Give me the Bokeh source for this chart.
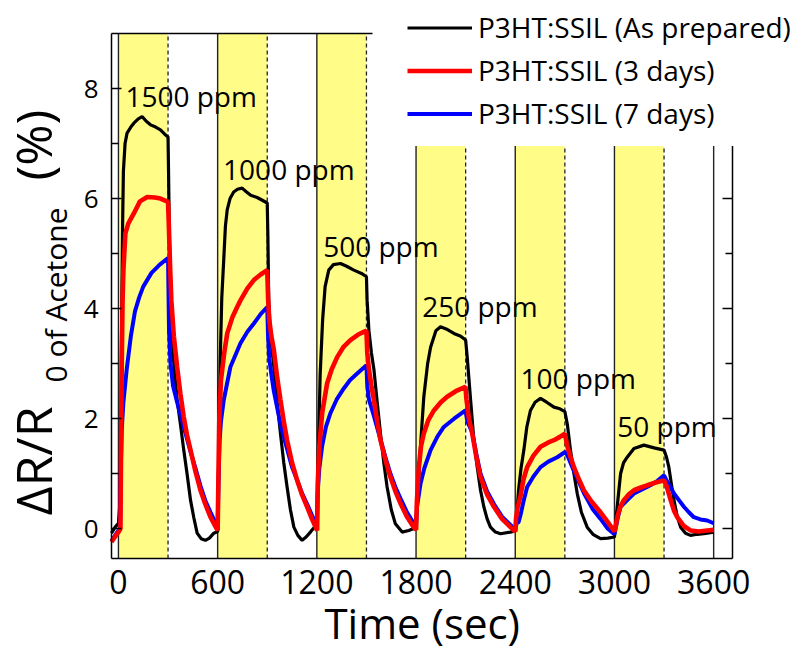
import math
from bokeh.plotting import figure
from bokeh.models import (ColumnDataSource, FixedTicker, LinearAxis, BoxAnnotation,
                          Label, Legend, LegendItem, Range1d)
from bokeh.core.properties import value
from bokeh.embed import file_html
from bokeh.resources import INLINE

FONT = "Open Sans"

# ---------------- data ----------------
black_t = [-42, -20, 0, 10, 15, 20, 25, 30, 40, 52, 75, 93, 120, 143, 170, 194, 225, 254, 280, 300,
           303, 308, 313, 320, 335, 355, 375, 395, 415, 436, 456, 476, 500, 526, 550, 577, 600,
           608, 615, 625, 637, 647, 658, 675, 697, 720, 748, 775, 800, 839, 870, 900,
           904, 909, 920, 940, 960, 980, 1000, 1020, 1040, 1061, 1085, 1111, 1135, 1161, 1185, 1200,
           1210, 1220, 1235, 1250, 1272, 1300, 1343, 1380, 1424, 1470, 1500,
           1504, 1515, 1530, 1545, 1565, 1585, 1605, 1625, 1650, 1675, 1716, 1756, 1797,
           1810, 1827, 1847, 1870, 1888, 1920, 1948, 1990, 2029, 2070, 2100, 2110, 2130, 2150, 2170,
           2190, 2210, 2230, 2250, 2280, 2311, 2371, 2400,
           2410, 2420, 2435, 2452, 2470, 2492, 2520, 2553, 2590, 2634, 2670, 2700, 2715, 2734, 2755,
           2775, 2800, 2835, 2870, 2916, 2960, 3000,
           3010, 3020, 3037, 3055, 3077, 3118, 3178, 3240, 3300, 3315, 3329, 3345, 3360, 3380, 3400,
           3430, 3460, 3500, 3541, 3600]
black_v = [-0.08, 0.03, 0.1, 0.5, 2.2, 4.0, 5.5, 6.5, 7.0, 7.19, 7.3, 7.37, 7.45, 7.49, 7.4, 7.34, 7.3, 7.25, 7.17, 7.12,
           6.5, 5.3, 4.5, 3.8, 3.0, 2.34, 1.9, 1.43, 1.0, 0.52, 0.2, -0.08, -0.18, -0.21, -0.17, -0.08, -0.05,
           1.5, 3.0, 4.2, 4.9, 5.5, 5.8, 6.0, 6.12, 6.17, 6.19, 6.12, 6.06, 6.02, 5.97, 5.92,
           5.3, 4.15, 3.5, 2.94, 2.3, 1.73, 1.2, 0.76, 0.35, 0.03, -0.12, -0.21, -0.15, -0.06, 0.03, 0.09,
           1.5, 2.8, 3.8, 4.4, 4.7, 4.8, 4.82, 4.77, 4.7, 4.64, 4.58,
           4.15, 3.6, 3.2, 2.9, 2.3, 1.73, 1.2, 0.76, 0.35, 0.09, -0.06, -0.03, 0.02,
           0.6, 1.5, 2.4, 3.0, 3.3, 3.6, 3.67, 3.62, 3.55, 3.5, 3.43, 3.1, 2.34, 1.6, 1.12,
           0.7, 0.4, 0.18, 0.03, -0.06, -0.09, -0.06, -0.04,
           0.3, 0.7, 1.1, 1.43, 1.85, 2.15, 2.3, 2.37, 2.3, 2.21, 2.18, 2.13, 1.9, 1.43, 1.0,
           0.64, 0.3, 0.03, -0.1, -0.18, -0.17, -0.15,
           0.2, 0.5, 1.0, 1.2, 1.3, 1.46, 1.52, 1.47, 1.43, 1.3, 1.12, 0.8, 0.52, 0.22, 0.03,
           -0.08, -0.12, -0.1, -0.09, -0.06]

red_t = [-42, -20, 0, 12, 16, 20, 25, 30, 42, 60, 93, 130, 174, 220, 254, 300,
         305, 312, 320, 335, 355, 375, 395, 415, 436, 465, 496, 525, 557, 580, 600,
         605, 610, 620, 640, 658, 690, 718, 738, 780, 819, 860, 900,
         905, 912, 925, 940, 960, 980, 1000, 1020, 1050, 1081, 1110, 1141, 1170, 1202,
         1205, 1215, 1232, 1262, 1290, 1323, 1360, 1403, 1450, 1500,
         1505, 1515, 1530, 1545, 1565, 1585, 1615, 1645, 1675, 1706, 1745, 1786, 1800,
         1805, 1817, 1830, 1847, 1875, 1908, 1950, 1988, 2040, 2099,
         2105, 2120, 2140, 2165, 2190, 2230, 2271, 2320, 2371, 2400,
         2405, 2415, 2432, 2450, 2472, 2510, 2553, 2600, 2634, 2670, 2700,
         2715, 2735, 2755, 2785, 2815, 2860, 2916, 2960, 3000,
         3008, 3017, 3035, 3057, 3085, 3118, 3160, 3198, 3250, 3300,
         3315, 3340, 3360, 3380, 3420, 3460, 3510, 3561, 3600]
red_v = [-0.24, -0.14, -0.06, 0.0, 1.5, 3.0, 4.15, 4.7, 5.37, 5.55, 5.73, 5.95, 6.03, 6.02, 6.0, 5.94,
         5.5, 4.8, 4.15, 3.5, 2.94, 2.45, 2.03, 1.7, 1.43, 1.05, 0.7, 0.45, 0.21, 0.08, -0.03,
         1.0, 2.0, 2.7, 3.2, 3.55, 3.85, 4.03, 4.15, 4.37, 4.52, 4.62, 4.7,
         4.2, 3.8, 3.5, 3.25, 2.75, 2.34, 1.95, 1.61, 1.2, 0.88, 0.62, 0.4, 0.18, -0.03,
         0.8, 1.5, 2.1, 2.64, 2.9, 3.12, 3.3, 3.43, 3.53, 3.6,
         3.2, 2.9, 2.6, 2.34, 1.95, 1.61, 1.25, 0.94, 0.68, 0.46, 0.22, 0.03, -0.02,
         0.5, 1.12, 1.5, 1.73, 1.98, 2.15, 2.3, 2.4, 2.5, 2.58,
         2.35, 2.0, 1.73, 1.3, 0.94, 0.62, 0.4, 0.18, 0.03, -0.05,
         0.2, 0.4, 0.6, 0.9, 1.12, 1.33, 1.49, 1.57, 1.61, 1.67, 1.73,
         1.5, 1.3, 1.12, 0.9, 0.7, 0.5, 0.3, 0.12, -0.05,
         0.05, 0.21, 0.4, 0.52, 0.62, 0.7, 0.75, 0.79, 0.84, 0.88,
         0.78, 0.52, 0.33, 0.21, 0.05, -0.03, -0.05, -0.03, -0.02]

blue_t = [-42, -20, 0, 10, 15, 20, 30, 50, 75, 100, 125, 150, 200, 250, 300,
          306, 315, 330, 355, 395, 436, 466, 496, 527, 557, 580, 600,
          605, 612, 620, 637, 677, 738, 780, 819, 860, 900,
          905, 912, 925, 940, 960, 980, 1020, 1050, 1081, 1110, 1141, 1170, 1200,
          1206, 1215, 1232, 1255, 1282, 1320, 1363, 1400, 1444, 1500,
          1505, 1515, 1545, 1585, 1615, 1645, 1675, 1706, 1745, 1786, 1800,
          1806, 1827, 1850, 1888, 1930, 1968, 2030, 2099,
          2110, 2140, 2165, 2190, 2230, 2271, 2320, 2371, 2400,
          2408, 2420, 2432, 2450, 2472, 2510, 2553, 2600, 2654, 2704,
          2720, 2755, 2785, 2815, 2870, 2916, 2960, 3000,
          3010, 3020, 3037, 3070, 3118, 3170, 3218, 3260, 3300,
          3320, 3340, 3360, 3390, 3420, 3450, 3480, 3520, 3561, 3600]
blue_v = [-0.22, -0.12, -0.03, 0.0, 1.2, 1.8, 2.3, 2.9, 3.5, 3.95, 4.2, 4.4, 4.65, 4.8, 4.92,
          3.6, 3.0, 2.6, 2.3, 1.85, 1.4, 1.1, 0.78, 0.5, 0.3, 0.15, 0.05,
          0.8, 1.6, 1.95, 2.34, 2.94, 3.37, 3.58, 3.73, 3.9, 4.03,
          3.5, 3.1, 2.8, 2.5, 2.2, 1.9, 1.45, 1.12, 0.88, 0.65, 0.45, 0.25, 0.05,
          0.7, 1.1, 1.5, 1.85, 2.1, 2.35, 2.55, 2.7, 2.82, 2.97,
          2.6, 2.35, 2.05, 1.62, 1.3, 1.0, 0.76, 0.55, 0.3, 0.1, 0.03,
          0.4, 0.82, 1.1, 1.43, 1.68, 1.85, 2.0, 2.15,
          1.95, 1.75, 1.35, 1.0, 0.68, 0.45, 0.22, 0.07, -0.03,
          0.1, 0.12, 0.25, 0.5, 0.76, 0.95, 1.12, 1.22, 1.3, 1.4,
          1.3, 1.05, 0.85, 0.65, 0.35, 0.18, 0.0, -0.1,
          0.05, 0.2, 0.4, 0.5, 0.64, 0.72, 0.79, 0.87, 0.97,
          0.85, 0.75, 0.64, 0.52, 0.4, 0.3, 0.21, 0.17, 0.15, 0.1]

series_names = ["P3HT:SSIL (As prepared)", "P3HT:SSIL (3 days)", "P3HT:SSIL (7 days)"]

exposure_on = [0, 600, 1200, 1800, 2400, 3000]
exposure_off = [300, 900, 1500, 2100, 2700, 3300]
cycle_lines = [0, 600, 1200, 1800, 2400, 3000, 3600]

conc_labels = ["1500 ppm", "1000 ppm", "500 ppm", "250 ppm", "100 ppm", "50 ppm"]
conc_label_t = [42, 633, 1238, 1837, 2432, 3017]
conc_label_v = [7.86, 6.53, 5.14, 4.05, 2.74, 1.86]

x_ticks = [0, 600, 1200, 1800, 2400, 3000, 3600]
y_ticks = [0, 2, 4, 6, 8]
y_minor = [1, 3, 5, 7]

# ---------------- layout geometry (pixels of the 805x651 canvas) ----------------
W, H = 805, 651
PL, PR, PT, PB = 111, 732, 33, 558          # visible plot box
XMIN, XMAX = -42, 3714                      # plotted time window
YMIN, YMAX = -0.54, 9.0                     # plotted response window
kx = (PR - PL) / (XMAX - XMIN)
ky = (PB - PT) / (YMAX - YMIN)
x_view = (XMIN - PL / kx, XMIN + (W - PL) / kx)
y_view = (YMIN - (H - PB) / ky, YMIN + PB / ky)


def px_x(px):
    return XMIN + (px - PL) / kx


def px_y(py):
    return YMIN + (PB - py) / ky


p = figure(frame_width=W, frame_height=H, min_border=0,
           x_range=Range1d(*x_view), y_range=Range1d(*y_view),
           output_backend="svg", toolbar_location=None)
p.background_fill_color = "white"
p.border_fill_color = "white"
p.outline_line_color = None
p.xgrid.grid_line_color = None
p.ygrid.grid_line_color = None

# exposure bands
for s, e in zip(exposure_on, exposure_off):
    p.add_layout(BoxAnnotation(left=s, right=e, bottom=YMIN, top=YMAX, fill_color="#FFFC88",
                               fill_alpha=1.0, line_color=None, level="underlay"))

# cycle boundaries (solid) and gas-off markers (dashed)
p.segment(x0=cycle_lines, y0=[YMIN] * len(cycle_lines), x1=cycle_lines, y1=[YMAX] * len(cycle_lines),
          line_color="#222222", line_width=1.4)
p.segment(x0=exposure_off, y0=[YMIN] * len(exposure_off), x1=exposure_off, y1=[YMAX] * len(exposure_off),
          line_color="#222222", line_width=1.3, line_dash="4 3")

# axes (drawn at the edges of the plot box)
xa = p.xaxis[0]
xa.fixed_location = YMIN
xa.bounds = (XMIN, XMAX)
xa.ticker = FixedTicker(ticks=x_ticks)
xa.major_tick_in = 0
xa.major_tick_out = 0
xa.minor_tick_in = 0
xa.minor_tick_out = 0
xa.axis_line_width = 1.5
xa.major_label_text_font = FONT
xa.major_label_text_font_size = "32px"
xa.major_label_text_color = "black"
xa.major_label_standoff = 11

ya = p.yaxis[0]
ya.fixed_location = XMIN
ya.bounds = (YMIN, YMAX)
ya.ticker = FixedTicker(ticks=y_ticks, minor_ticks=y_minor)
ya.major_tick_in = 10
ya.major_tick_out = 0
ya.minor_tick_in = 7
ya.minor_tick_out = 0
ya.major_tick_line_width = 1.4
ya.minor_tick_line_width = 1.4
ya.axis_line_width = 1.5
ya.major_label_text_font = FONT
ya.major_label_text_font_size = "26px"
ya.major_label_text_color = "black"
ya.major_label_standoff = 13

ra = LinearAxis(fixed_location=XMAX, bounds=(YMIN, YMAX),
                ticker=FixedTicker(ticks=y_ticks, minor_ticks=y_minor))
ra.major_tick_in = 10
ra.major_tick_out = 0
ra.minor_tick_in = 7
ra.minor_tick_out = 0
ra.major_tick_line_width = 1.4
ra.minor_tick_line_width = 1.4
ra.axis_line_width = 1.5
ra.major_label_text_color = None
p.add_layout(ra, "right")

# top border stops where the legend box begins
ta = LinearAxis(fixed_location=YMAX, bounds=(XMIN, px_x(372)), ticker=FixedTicker(ticks=[]))
ta.major_tick_in = 0
ta.major_tick_out = 0
ta.minor_tick_in = 0
ta.minor_tick_out = 0
ta.axis_line_width = 1.5
ta.major_label_text_color = None
p.add_layout(ta, "above")

# curves
r_black = p.line(black_t, black_v, line_color="black", line_width=3.2)
r_blue = p.line(blue_t, blue_v, line_color="#0000FF", line_width=4)
r_red = p.line(red_t, red_v, line_color="#FF0000", line_width=4.6)

# concentration labels
src = ColumnDataSource(dict(x=conc_label_t, y=conc_label_v, text=conc_labels))
p.text(x="x", y="y", text="text", source=src, text_font=value(FONT), text_font_size="28px",
       text_color="black", text_align="left", text_baseline="alphabetic")

# axis titles
p.add_layout(Label(x=px_x(421.7), y=px_y(621.5), text="Time (sec)", text_font=FONT,
                   text_font_size="42px", text_align="center", text_baseline="alphabetic",
                   text_color="black"))
p.add_layout(Label(x=px_x(32), y=px_y(515), text="\u0394R/R", angle=math.pi / 2, text_font=FONT,
                   text_font_size="50px", text_align="left", text_baseline="alphabetic",
                   text_color="black"))
p.add_layout(Label(x=px_x(55), y=px_y(382), text="0 of Acetone", angle=math.pi / 2, text_font=FONT,
                   text_font_size="30px", text_align="left", text_baseline="alphabetic",
                   text_color="black"))
p.add_layout(Label(x=px_x(32), y=px_y(180), text="(%)", angle=math.pi / 2, text_font=FONT,
                   text_font_size="50px", text_align="left", text_baseline="alphabetic",
                   text_color="black"))

legend = Legend(items=[LegendItem(label=series_names[0], renderers=[r_black]),
                       LegendItem(label=series_names[1], renderers=[r_red]),
                       LegendItem(label=series_names[2], renderers=[r_blue])],
                location=(396, H - 145.5), label_text_font=FONT, label_text_font_size="28px",
                label_text_color="black", glyph_width=65, glyph_height=43, label_height=43,
                label_standoff=6, spacing=0, padding=10, margin=0,
                border_line_color="white", border_line_width=1,
                background_fill_color="white", background_fill_alpha=1.0)
p.add_layout(legend)

open("out.html", "w").write(file_html(p, INLINE))
